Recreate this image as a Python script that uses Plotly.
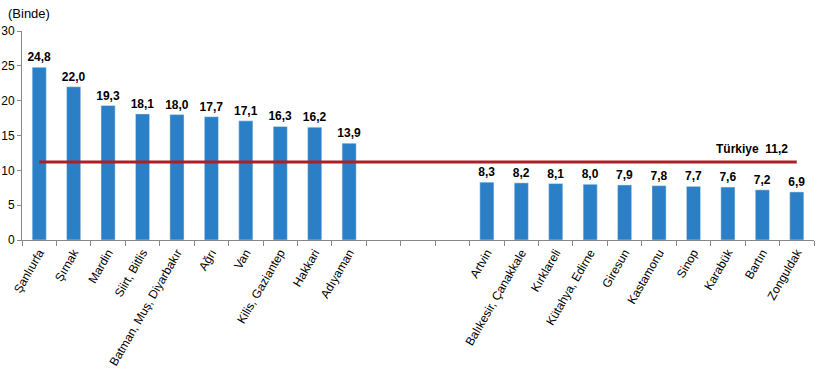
import plotly.graph_objects as go

high_regions = ["Şanlıurfa", "Şırnak", "Mardin", "Siirt, Bitlis", "Batman, Muş, Diyarbakır",
                "Ağrı", "Van", "Kilis, Gaziantep", "Hakkari", "Adıyaman"]
high_values = [24.8, 22.0, 19.3, 18.1, 18.0, 17.7, 17.1, 16.3, 16.2, 13.9]
low_regions = ["Artvin", "Balıkesir, Çanakkale", "Kırklareli", "Kütahya, Edirne", "Giresun",
               "Kastamonu", "Sinop", "Karabük", "Bartın", "Zonguldak"]
low_values = [8.3, 8.2, 8.1, 8.0, 7.9, 7.8, 7.7, 7.6, 7.2, 6.9]
gap_slots = [" ", "  ", "   "]
turkiye_value = 11.2

categories = high_regions + gap_slots + low_regions
bar_x = high_regions + low_regions
bar_y = high_values + low_values
bar_text = [f"{v:.1f}".replace(".", ",") for v in bar_y]

font = "Liberation Sans, Arial, sans-serif"

fig = go.Figure()
fig.add_trace(go.Bar(
    x=bar_x, y=bar_y, text=bar_text, textposition="outside", constraintext="none",
    textfont=dict(family=font, size=12, color="#000000", weight="bold"),
    marker=dict(color="#2A7FC6"), cliponaxis=False, showlegend=False,
))
fig.add_trace(go.Scatter(
    x=[categories[0], categories[-1]], y=[turkiye_value, turkiye_value],
    mode="lines", line=dict(color="#A82126", width=3), showlegend=False,
))
fig.add_annotation(
    x=categories[-2], y=turkiye_value, yshift=13, xshift=-10,
    text="Türkiye  " + f"{turkiye_value:.1f}".replace(".", ","), showarrow=False,
    font=dict(family=font, size=12, color="#000000", weight="bold"),
)
fig.add_annotation(
    xref="paper", yref="paper", x=-0.02, y=1.04, xanchor="left", yanchor="bottom",
    text="(Binde)", showarrow=False,
    font=dict(family=font, size=13, color="#000000"),
)

fig.update_layout(
    width=819, height=371,
    margin=dict(l=22, r=5, t=31, b=131, autoexpand=False),
    paper_bgcolor="white", plot_bgcolor="white",
    bargap=0.59,
    xaxis=dict(type="category", categoryorder="array", categoryarray=categories,
               tickmode="array", tickvals=categories, ticktext=categories,
               tickangle=-60, tickson="boundaries", ticks="outside", ticklen=5,
               tickcolor="#888888", showline=True, linecolor="#888888", linewidth=1,
               showgrid=False, automargin=False,
               tickfont=dict(family=font, size=12, color="#000000"),
               range=[-0.5, len(categories) - 0.5]),
    yaxis=dict(range=[0, 30], dtick=5, ticks="outside", ticklen=4, tickcolor="#888888",
               showline=True, linecolor="#888888", linewidth=1, showgrid=False,
               zeroline=False, automargin=False,
               tickfont=dict(family=font, size=12, color="#000000")),
)

fig.write_html("out.html", config={"displayModeBar": False},
               post_script="document.body.style.margin='0';")
